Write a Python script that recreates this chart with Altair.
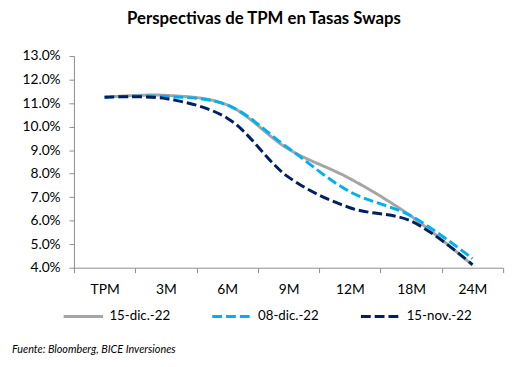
import altair as alt
import pandas as pd

categories = ["TPM", "3M", "6M", "9M", "12M", "18M", "24M"]
series_names = ["15-dic.-22", "08-dic.-22", "15-nov.-22"]
dic15 = [11.25, 11.33, 10.92, 9.04, 7.79, 6.19, 4.11]
dic08 = [11.25, 11.28, 10.92, 9.08, 7.23, 6.20, 4.39]
nov15 = [11.25, 11.19, 10.36, 7.85, 6.55, 5.98, 4.13]
y_ticks = [4, 5, 6, 7, 8, 9, 10, 11, 12, 13]
title_text = "Perspectivas de TPM en Tasas Swaps"
source_text = "Fuente: Bloomberg, BICE Inversiones"

colors = ["#A5A5A5", "#00B0F0", "#002060"]
dashes = [[1, 0], [10, 4], [10, 4]]

rows = []
for name, vals in zip(series_names, [dic15, dic08, nov15]):
    for c, v in zip(categories, vals):
        rows.append({"cat": c, "val": v, "serie": name})
df = pd.DataFrame(rows)

FONT = "Lato"

lines = alt.Chart(df).mark_line(strokeWidth=3, interpolate="catmull-rom").encode(
    x=alt.X("cat:N", sort=categories, title=None,
            scale=alt.Scale(type="band", paddingInner=0, paddingOuter=0),
            axis=alt.Axis(tickBand="extent", labelAngle=0, labelFontSize=14,
                          labelColor="#000", labelFont=FONT, tickSize=5,
                          domainColor="#8c8c8c", tickColor="#8c8c8c",
                          labelPadding=10, grid=False)),
    y=alt.Y("val:Q", title=None,
            scale=alt.Scale(domain=[4, 13], nice=False, zero=False),
            axis=alt.Axis(values=y_ticks, labelExpr="format(datum.value, '.1f') + '%'",
                          labelFontSize=14, labelColor="#000", labelFont=FONT,
                          tickSize=5, domainColor="#8c8c8c", tickColor="#8c8c8c",
                          labelPadding=9, grid=False)),
    color=alt.Color("serie:N", sort=series_names, title=None,
                    scale=alt.Scale(domain=series_names, range=colors),
                    legend=alt.Legend(orient="none", legendX=-12, legendY=243,
                                      direction="horizontal", columns=3,
                                      symbolType="stroke", symbolSize=1600,
                                      symbolStrokeWidth=3, labelFontSize=13.5,
                                      labelFont=FONT, labelColor="#000",
                                      labelOffset=5, columnPadding=36)),
    strokeDash=alt.StrokeDash("serie:N", sort=series_names, title=None,
                              scale=alt.Scale(domain=series_names, range=dashes)),
)

src = alt.Chart(pd.DataFrame({"t": [source_text]})).mark_text(
    align="left", baseline="middle", fontStyle="italic", fontSize=11,
    font=FONT, color="#000"
).encode(x=alt.value(-63), y=alt.value(299), text="t:N")

chart = alt.layer(lines, src).properties(
    width=436, height=215,
    title=alt.TitleParams(title_text, fontSize=17, fontWeight="bold", font=FONT,
                          color="#000", anchor="middle", dx=-25, offset=22),
    padding={"left": 67, "top": 46, "right": 9, "bottom": 95},
    autosize=alt.AutoSizeParams(type="none"),
).configure_view(stroke=None)

chart.save("out.html", embed_options={"renderer": "svg", "actions": False})
